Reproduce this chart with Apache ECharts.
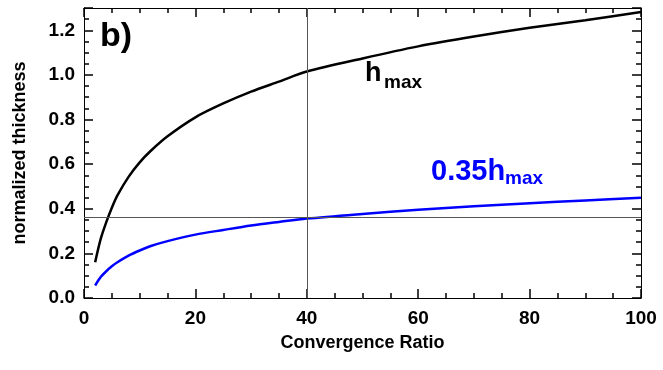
<!DOCTYPE html>
<html>
<head>
<meta charset="utf-8">
<script src="https://cdn.jsdelivr.net/npm/echarts@6/dist/echarts.min.js"></script>
<style>
  html, body { margin: 0; padding: 0; background: #fff; }
  #chart_b { width: 663px; height: 370px; }
</style>
</head>
<body>
<div id="chart_b"></div>
<script>
// convergence ratio samples
var ratio = [2, 3, 4, 5, 6, 8, 10, 12, 15, 20, 25, 30, 35, 40, 50, 60, 70, 80, 90, 100];
// h_max, normalized
var hMax = [0.16, 0.265, 0.34, 0.405, 0.46, 0.543, 0.608, 0.66, 0.725, 0.81, 0.872, 0.925, 0.97, 1.015, 1.074, 1.128, 1.172, 1.211, 1.245, 1.282];
// 0.35 h_max
var hMax35 = [0.056, 0.094, 0.12, 0.142, 0.16, 0.19, 0.213, 0.233, 0.255, 0.284, 0.305, 0.325, 0.341, 0.356, 0.377, 0.396, 0.411, 0.425, 0.437, 0.449];
// reference cross lines
var refX = 40;
var refY = 0.357;

// axis ranges
var xMin = 0, xMax = 100, xStep = 20;
var yMin = 0, yMax = 1.3, yStep = 0.2;

var FONT = '"Liberation Sans", Arial, Helvetica, sans-serif';

function pairs(xs, ys) {
    var res = [];
    for (var i = 0; i < xs.length; i++) {
        res.push([xs[i], ys[i]]);
    }
    return res;
}

// box axis pieces, inward ticks like the IDL plot
function ticks() {
    return { show: true, inside: true, length: 9, lineStyle: { color: '#000', width: 1.5 } };
}
function minor() {
    return { show: true, splitNumber: 4, length: 5, lineStyle: { color: '#000', width: 1.5 } };
}
function axLine() {
    return { show: true, onZero: false, lineStyle: { color: '#000', width: 1 } };
}
var labelFont = { fontFamily: FONT, fontWeight: 'bold', fontSize: 19, color: '#000' };
var nameFont = { fontFamily: FONT, fontWeight: 'bold', fontSize: 18, color: '#000' };

var myChart = echarts.init(document.getElementById('chart_b'));

var option = {
    animation: false,
    grid: { left: 84, right: 22, top: 8, bottom: 72 },
    xAxis: [
        {
            type: 'value', min: xMin, max: xMax, interval: xStep, position: 'bottom',
            name: 'Convergence Ratio', nameLocation: 'middle', nameGap: 36,
            nameTextStyle: nameFont,
            axisLine: axLine(), axisTick: ticks(), minorTick: minor(),
            splitLine: { show: false }, minorSplitLine: { show: false },
            axisLabel: Object.assign({ margin: 11 }, labelFont)
        },
        {
            type: 'value', min: xMin, max: xMax, interval: xStep, position: 'top',
            axisLine: axLine(), axisTick: ticks(), minorTick: minor(),
            splitLine: { show: false }, axisLabel: { show: false }
        }
    ],
    yAxis: [
        {
            type: 'value', min: yMin, max: yMax, interval: yStep, position: 'left',
            name: 'normalized thickness', nameLocation: 'middle', nameGap: 55,
            nameTextStyle: nameFont,
            axisLine: axLine(), axisTick: ticks(), minorTick: minor(),
            splitLine: { show: false }, minorSplitLine: { show: false },
            axisLabel: Object.assign({
                margin: 9, showMaxLabel: false,
                formatter: function (v) { return v.toFixed(1); }
            }, labelFont)
        },
        {
            type: 'value', min: yMin, max: yMax, interval: yStep, position: 'right',
            axisLine: axLine(), axisTick: ticks(), minorTick: minor(),
            splitLine: { show: false }, axisLabel: { show: false }
        }
    ],
    series: [
        {
            name: 'hmax', type: 'line', smooth: 0.3, showSymbol: false,
            data: pairs(ratio, hMax),
            lineStyle: { color: '#000', width: 2.5 },
            itemStyle: { color: '#000' },
            markLine: {
                silent: true, symbol: 'none', animation: false,
                label: { show: false },
                lineStyle: { color: '#555', width: 1, type: 'solid' },
                data: [{ yAxis: refY }, { xAxis: refX }]
            }
        },
        {
            name: '0.35hmax', type: 'line', smooth: 0.3, showSymbol: false,
            data: pairs(ratio, hMax35),
            lineStyle: { color: '#0000ff', width: 2.5 },
            itemStyle: { color: '#0000ff' }
        }
    ],
    graphic: [
        { type: 'text', x: 100, y: 37, style: { text: 'b)', fontFamily: FONT, fontWeight: 'bold', fontSize: 34, fill: '#000', verticalAlign: 'middle' } },
        { type: 'text', x: 365, y: 74, style: { text: 'h', fontFamily: FONT, fontWeight: 'bold', fontSize: 27, fill: '#000', verticalAlign: 'middle' } },
        { type: 'text', x: 384, y: 83, style: { text: 'max', fontFamily: FONT, fontWeight: 'bold', fontSize: 19, fill: '#000', verticalAlign: 'middle' } },
        { type: 'text', x: 431, y: 172, style: { text: '0.35h', fontFamily: FONT, fontWeight: 'bold', fontSize: 29, fill: '#0000ff', verticalAlign: 'middle' } },
        { type: 'text', x: 505, y: 179, style: { text: 'max', fontFamily: FONT, fontWeight: 'bold', fontSize: 19, fill: '#0000ff', verticalAlign: 'middle' } }
    ]
};

myChart.setOption(option);
window.addEventListener('resize', function () {
    myChart.resize();
});
</script>
</body>
</html>
